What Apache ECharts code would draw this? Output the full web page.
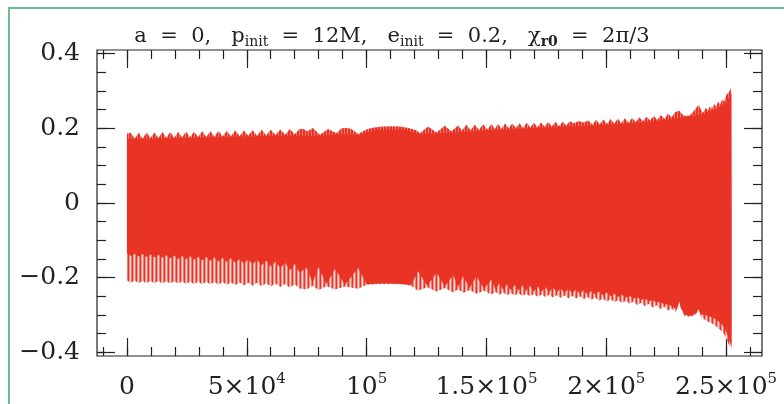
<!DOCTYPE html>
<html>
<head>
<meta charset="utf-8">
<script src="https://cdn.jsdelivr.net/npm/echarts@6/dist/echarts.min.js"></script>
<style>
  html, body { margin: 0; padding: 0; background: #ffffff; }
  #chart { width: 784px; height: 404px; }
</style>
</head>
<body>
<div id="chart"></div>
<script>
// Waveform envelope, time t in units of M, strain on the vertical axis.
// Outer edges are the extreme excursions of the oscillation, the "solid"
// curves bound the region that the oscillation covers densely.
const upperEdge = [
  [0,0.186],
  [1600,0.188],[3200,0.173],[4900,0.188],[6500,0.173],[8200,0.189],[9800,0.174],
  [11500,0.189],[13100,0.174],[14800,0.190],[16400,0.175],[18100,0.190],[19700,0.175],
  [21400,0.190],[23000,0.176],[24700,0.191],[26300,0.176],[28000,0.191],[29700,0.177],
  [31400,0.192],[33100,0.177],[34800,0.192],[36500,0.178],[38200,0.193],[39900,0.178],
  [41600,0.193],[43400,0.179],[45200,0.194],[47000,0.179],[48800,0.194],[50600,0.180],
  [52400,0.195],[54300,0.180],[56200,0.196],[58100,0.181],[60000,0.196],[62000,0.182],
  [64000,0.197],[66000,0.183],[68000,0.198],[70000,0.184],[72000,0.198],
  [73600,0.198],[75300,0.192],[77600,0.201],[80500,0.183],[83900,0.198],[87500,0.187],
  [89500,0.200],[91400,0.201],[93500,0.199],[96500,0.185],
  [98500,0.192],[100500,0.198],[103000,0.202],[106800,0.205],[110500,0.2055],[113900,0.205],
  [117500,0.201],[120800,0.195],[122200,0.187],
  [125700,0.205],[129200,0.189],[132600,0.207],[135400,0.192],[138200,0.208],[139800,0.194],
  [141700,0.2095],[143400,0.195],[145100,0.210],[146900,0.196],[148600,0.211],[150400,0.197],
  [152100,0.212],[153500,0.198],[154800,0.212],
  [156300,0.199],[157800,0.213],[159300,0.200],[160800,0.213],[162300,0.201],[163800,0.214],
  [165300,0.201],[166800,0.215],[168300,0.202],[169800,0.215],[171300,0.203],[172800,0.216],
  [174300,0.204],[175800,0.217],[177300,0.205],[178800,0.218],[180300,0.206],[181800,0.218],
  [183300,0.208],[184800,0.219],[186500,0.214],[188500,0.220],[190500,0.216],[192500,0.221],
  [194300,0.210],[195800,0.223],[197300,0.211],[198800,0.224],[200300,0.212],[201800,0.225],
  [203300,0.213],[204800,0.226],[206300,0.214],[207800,0.227],[209300,0.215],[210800,0.228],
  [212300,0.217],[213800,0.230],[215300,0.219],[216800,0.231],[218300,0.221],[219800,0.233],
  [221300,0.223],[222800,0.236],[224300,0.226],[225800,0.239],[227300,0.230],[228800,0.244],
  [230500,0.247],[231700,0.238],[232600,0.234],[234700,0.234],[236400,0.245],[238500,0.2625],
  [240300,0.241],[241600,0.255],[242400,0.247],[243300,0.260],[244100,0.252],[245000,0.265],
  [245800,0.258],[246700,0.271],[247500,0.264],[248400,0.278],[249200,0.272],[250000,0.288],
  [250800,0.283],[251500,0.300],[252000,0.309],[252300,0.306]
];

const upperSolid = [
  [0,0.172],[10000,0.172],[30000,0.175],[50000,0.178],[70000,0.181],[80000,0.180],
  [90000,0.184],[97000,0.182],[104000,0.196],[116000,0.197],[122000,0.184],[135000,0.188],
  [155000,0.196],[175000,0.202],[195000,0.208],[215000,0.216],[228000,0.226],[234000,0.231],
  [240000,0.238],[246000,0.252],[250000,0.270],[252300,0.295]
];

const lowerSolid = [
  [0,-0.134],
  [1600,-0.142],[3200,-0.136],[4900,-0.144],[6500,-0.137],[8200,-0.145],[9800,-0.138],
  [11500,-0.146],[13100,-0.139],[14800,-0.147],[16400,-0.140],[18100,-0.149],[19700,-0.141],
  [21400,-0.150],[23000,-0.142],[24700,-0.151],[26300,-0.143],[28000,-0.152],[29700,-0.144],
  [31400,-0.154],[33100,-0.145],[34800,-0.155],[36500,-0.146],[38200,-0.157],[39900,-0.147],
  [41600,-0.158],[43400,-0.148],[45200,-0.160],[47000,-0.150],[48800,-0.162],[50600,-0.151],
  [52400,-0.164],[54300,-0.153],[56200,-0.167],[58100,-0.155],[60000,-0.170],[62000,-0.157],
  [64000,-0.174],[66000,-0.160],[68000,-0.180],[70000,-0.163],[72000,-0.186],
  [75000,-0.174],[77500,-0.214],[79900,-0.172],[83300,-0.217],[86800,-0.177],[91000,-0.219],
  [96500,-0.174],[100000,-0.218],[105000,-0.216],[110000,-0.216],[115000,-0.217],[118500,-0.220],
  [121500,-0.183],[125300,-0.222],[129200,-0.187],[132700,-0.224],[136100,-0.192],[138200,-0.226],
  [140300,-0.196],[143000,-0.228],[145800,-0.196],[149000,-0.230],[152100,-0.205],[153800,-0.232],
  [155400,-0.215],[157000,-0.233],[158600,-0.218],[160200,-0.234],[161800,-0.220],[163400,-0.235],
  [165000,-0.221],[166600,-0.236],[168200,-0.222],[169800,-0.237],[171400,-0.224],[173000,-0.238],
  [174600,-0.225],[176200,-0.239],[177800,-0.226],[179400,-0.240],[181000,-0.228],[182600,-0.241],
  [184200,-0.230],[185800,-0.242],[187400,-0.231],[189000,-0.243],[190600,-0.233],[192200,-0.245],
  [193800,-0.235],[195400,-0.246],[197000,-0.237],[198600,-0.248],[200200,-0.240],[201800,-0.250],
  [203400,-0.243],[205000,-0.252],[206600,-0.246],[208200,-0.254],[209800,-0.249],[211400,-0.256],
  [213000,-0.253],[214600,-0.259],[216200,-0.257],[217800,-0.262],[219400,-0.261],[221000,-0.266],
  [222600,-0.266],[224200,-0.271],[225800,-0.272],[227400,-0.277],[228800,-0.283],[230000,-0.276],
  [230500,-0.262],[231200,-0.281],[232600,-0.299],[235000,-0.302],[237200,-0.297],[238500,-0.285],
  [239600,-0.298],[241000,-0.300],[242500,-0.303],[244000,-0.306],[245800,-0.312],[247200,-0.319],
  [248500,-0.327],[249500,-0.337],[250500,-0.352],[251300,-0.367],[251900,-0.378],[252300,-0.384]
];

const lowerEdge = [
  [0,-0.208],
  [1600,-0.214],[3200,-0.208],[4900,-0.215],[6500,-0.209],[8200,-0.215],[9800,-0.209],
  [11500,-0.215],[13100,-0.209],[14800,-0.216],[16400,-0.210],[18100,-0.216],[19700,-0.210],
  [21400,-0.216],[23000,-0.210],[24700,-0.217],[26300,-0.211],[28000,-0.217],[29700,-0.211],
  [31400,-0.218],[33100,-0.211],[34800,-0.218],[36500,-0.212],[38200,-0.219],[39900,-0.212],
  [41600,-0.219],[43400,-0.213],[45200,-0.220],[47000,-0.213],[48800,-0.221],[50600,-0.214],
  [52400,-0.222],[54300,-0.214],[56200,-0.223],[58100,-0.215],[60000,-0.224],[62000,-0.216],
  [64000,-0.225],[66000,-0.217],[68000,-0.227],[70000,-0.218],[72000,-0.229],
  [75000,-0.232],[77500,-0.222],[79900,-0.233],[83300,-0.223],[86800,-0.232],[91000,-0.224],
  [96500,-0.230],[100000,-0.219],[105000,-0.217],[110000,-0.217],[115000,-0.218],[118500,-0.222],
  [121500,-0.235],[125300,-0.226],[129200,-0.237],[132700,-0.228],[136100,-0.240],[138200,-0.231],
  [140300,-0.241],[143000,-0.233],[145800,-0.243],[149000,-0.235],[152100,-0.245],[153800,-0.238],
  [155400,-0.246],[157000,-0.240],[158600,-0.247],[160200,-0.241],[161800,-0.248],[163400,-0.242],
  [165000,-0.249],[166600,-0.243],[168200,-0.250],[169800,-0.244],[171400,-0.251],[173000,-0.245],
  [174600,-0.252],[176200,-0.246],[177800,-0.253],[179400,-0.247],[181000,-0.254],[182600,-0.248],
  [184200,-0.255],[185800,-0.249],[187400,-0.256],[189000,-0.250],[190600,-0.258],[192200,-0.252],
  [193800,-0.259],[195400,-0.253],[197000,-0.262],[198600,-0.256],[200200,-0.264],[201800,-0.258],
  [203400,-0.266],[205000,-0.260],[206600,-0.268],[208200,-0.262],[209800,-0.270],[211400,-0.264],
  [213000,-0.274],[214600,-0.267],[216200,-0.277],[217800,-0.270],[219400,-0.280],[221000,-0.274],
  [222600,-0.284],[224200,-0.278],[225800,-0.288],[227400,-0.283],[228800,-0.292],[230000,-0.280],
  [230500,-0.264],[231200,-0.285],[232600,-0.302],[235000,-0.305],[237200,-0.300],[238500,-0.287],
  [239600,-0.305],[241000,-0.312],[242500,-0.318],[244000,-0.322],[245800,-0.330],[247200,-0.338],
  [248500,-0.345],[249500,-0.355],[250500,-0.370],[251300,-0.381],[251900,-0.386],[252300,-0.389]
];

// Tick labels
const xTicks = [0, 50000, 100000, 150000, 200000, 250000];
const xTickText = [['0', ''], ['5×10', '4'], ['10', '5'], ['1.5×10', '5'], ['2×10', '5'], ['2.5×10', '5']];
const yTicks = [-0.4, -0.2, 0, 0.2, 0.4];
const yTickText = ['−0.4', '−0.2', '0', '0.2', '0.4'];

// Frame and data ranges
const X_MIN = -12500, X_MAX = 265000;
const Y_MIN = -0.41, Y_MAX = 0.41;
const FRAME = { left: 97, top: 50, width: 665, height: 306 };
const RED = '#e93324';
const INK = '#222222';
const FONT = 'DejaVu Serif';

const px = t => FRAME.left + (t - X_MIN) / (X_MAX - X_MIN) * FRAME.width;
const py = v => FRAME.top + (Y_MAX - v) / (Y_MAX - Y_MIN) * FRAME.height;

// Vertical stripe fill for the sparsely covered part of the envelope
function stripes(colors) {
  const c = document.createElement('canvas');
  c.width = colors.length; c.height = 4;
  const g = c.getContext('2d');
  colors.forEach((col, i) => { g.fillStyle = col; g.fillRect(i, 0, 1, 4); });
  return { image: c, repeat: 'repeat' };
}
const hatchLow = stripes([RED, '#f0978f', '#f8d9d5', '#ec7b72']);
const hatchHigh = stripes([RED, RED, '#ee8076']);

const chart = echarts.init(document.getElementById('chart'), null, { renderer: 'canvas' });

const noSplit = { show: false };
const tickStyle = { color: INK, width: 1.2 };

function xTickAxis(grid, pos, min, max, interval, len, labels) {
  return {
    type: 'value', gridIndex: grid, position: pos, min, max, interval,
    axisLine: { show: false, onZero: false }, splitLine: noSplit,
    axisTick: { show: true, inside: true, length: len, lineStyle: tickStyle },
    axisLabel: labels ? {
      show: true, margin: 16,
      formatter: v => {
        const i = xTicks.findIndex(t => Math.abs(t - v) < 1);
        if (i < 0) return '';
        const [b, e] = xTickText[i];
        return e ? `{b|${b}}{e|${e}}` : `{b|${b}}`;
      },
      rich: {
        b: { fontFamily: FONT, fontSize: 25, color: INK, lineHeight: 30 },
        e: { fontFamily: FONT, fontSize: 15, color: INK, lineHeight: 15, verticalAlign: 'top' }
      }
    } : { show: false }
  };
}
function yTickAxis(grid, pos, interval, len, labels) {
  return {
    type: 'value', gridIndex: grid, position: pos, min: -0.4, max: 0.4, interval,
    axisLine: { show: false, onZero: false }, splitLine: noSplit,
    axisTick: { show: true, inside: true, length: len, lineStyle: tickStyle },
    axisLabel: labels ? {
      show: true, margin: 17, fontFamily: FONT, fontSize: 25, color: INK,
      formatter: v => {
        const i = yTicks.findIndex(t => Math.abs(t - v) < 1e-6);
        return i < 0 ? '' : yTickText[i];
      }
    } : { show: false }
  };
}
function hiddenAxis(grid, min, max) {
  return { type: 'value', gridIndex: grid, show: false, min, max,
           axisLine: { onZero: false }, splitLine: noSplit };
}

const yTop = py(0.4), yBot = py(-0.4);

const option = {
  animation: false,
  backgroundColor: '#ffffff',
  title: {
    left: 'center', top: 19, padding: [5, 10, 5, 0],
    text: '{t|a  =  0,   p}{s|init}{t|  =  12M,   e}{s|init}{t|  =  0.2,   χ}{b|r0}{t|  =  2π/3}',
    textStyle: {
      fontWeight: 'normal',
      rich: {
        t: { fontFamily: FONT, fontSize: 21, fontWeight: 'normal', color: INK, lineHeight: 25 },
        s: { fontFamily: FONT, fontSize: 14, fontWeight: 'normal', color: INK, lineHeight: 14, verticalAlign: 'bottom' },
        b: { fontFamily: FONT, fontSize: 14, fontWeight: 'bold', color: INK, lineHeight: 14, verticalAlign: 'bottom' }
      }
    }
  },
  graphic: [{
    type: 'rect', silent: true, z: -10,
    shape: { x: 9, y: 8, width: 820, height: 500 },
    style: { fill: 'none', stroke: '#6cbd92', lineWidth: 2 }
  }],
  grid: [
    { left: FRAME.left, top: FRAME.top, width: FRAME.width, height: FRAME.height,
      show: true, borderColor: INK, borderWidth: 1.2, backgroundColor: 'transparent' },
    { left: px(-10000), width: px(260000) - px(-10000), top: FRAME.top, height: FRAME.height },
    { left: px(0), width: px(250000) - px(0), top: FRAME.top, height: FRAME.height },
    { left: FRAME.left, width: FRAME.width, top: yTop, height: yBot - yTop },
    { left: FRAME.left, width: FRAME.width, top: yTop, height: yBot - yTop }
  ],
  xAxis: [
    hiddenAxis(0, X_MIN, X_MAX),
    xTickAxis(1, 'bottom', -10000, 260000, 10000, 9, false),
    xTickAxis(1, 'top', -10000, 260000, 10000, 9, false),
    xTickAxis(2, 'bottom', 0, 250000, 50000, 18, true),
    xTickAxis(2, 'top', 0, 250000, 50000, 18, false),
    hiddenAxis(3, 0, 1),
    hiddenAxis(4, 0, 1)
  ],
  yAxis: [
    hiddenAxis(0, Y_MIN, Y_MAX),
    hiddenAxis(1, 0, 1),
    hiddenAxis(2, 0, 1),
    yTickAxis(3, 'left', 0.05, 9, false),
    yTickAxis(3, 'right', 0.05, 9, false),
    yTickAxis(4, 'left', 0.2, 18, true),
    yTickAxis(4, 'right', 0.2, 18, false)
  ],
  series: [
    { name: 'upper edge', data: upperEdge, fill: hatchHigh, z: 2 },
    { name: 'lower edge', data: lowerEdge, fill: hatchLow, z: 2 },
    { name: 'upper solid', data: upperSolid, fill: RED, z: 3 },
    { name: 'lower solid', data: lowerSolid, fill: RED, z: 3 }
  ].map(s => ({
    type: 'line', name: s.name, data: s.data, xAxisIndex: 0, yAxisIndex: 0,
    showSymbol: false, symbol: 'none', silent: true, z: s.z,
    lineStyle: { width: 0, opacity: 0 },
    areaStyle: { color: s.fill, opacity: 1, origin: 'auto' }
  }))
};

chart.setOption(option);
</script>
</body>
</html>
